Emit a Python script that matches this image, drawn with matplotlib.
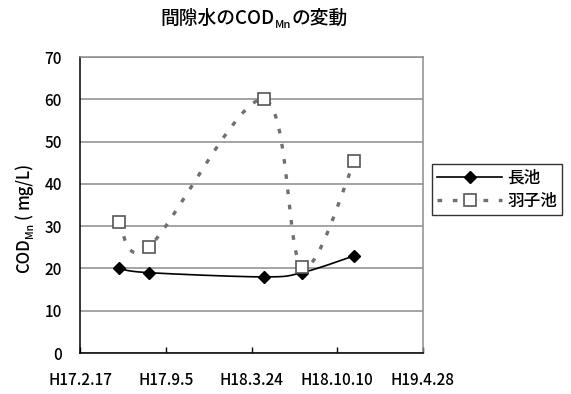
import datetime as dt

import matplotlib
matplotlib.use('Agg')
import matplotlib.dates as mdates
import matplotlib.pyplot as plt
import numpy as np
from matplotlib.lines import Line2D

plt.rcParams['font.family'] = ['Noto Sans CJK JP', 'DejaVu Sans']
plt.rcParams['font.weight'] = 'medium'

# 調査日（両池とも同じ日に採水）
sample_dates = ['2005-05-18', '2005-07-27', '2006-04-21', '2006-07-20', '2006-11-19']
# 間隙水のCOD_Mn (mg/L)
naga_ike = [20, 19, 18, 19, 23]
haneko_ike = [31, 25, 60, 20.3, 45.3]

# 軸の目盛（日付と和暦ラベル）
tick_dates = ['2005-02-17', '2005-09-05', '2006-03-24', '2006-10-10', '2007-04-28']
tick_labels = ['H17.2.17', 'H17.9.5', 'H18.3.24', 'H18.10.10', 'H19.4.28']
y_ticks = [0, 10, 20, 30, 40, 50, 60, 70]


def to_num(dates):
    return np.array([mdates.date2num(dt.datetime.fromisoformat(d)) for d in dates])


def smooth(x, y, n=40):
    """Excel風の平滑線（Catmull-Rom型ベジェ）"""
    p = np.column_stack([x, y]).astype(float)
    out = [p[:1]]
    for i in range(len(p) - 1):
        p0 = p[i - 1] if i > 0 else p[i]
        p1, p2 = p[i], p[i + 1]
        p3 = p[i + 2] if i + 2 < len(p) else p[i + 1]
        c1 = p1 + (p2 - p0) / 6
        c2 = p2 - (p3 - p1) / 6
        t = np.linspace(0, 1, n)[1:, None]
        seg = ((1 - t) ** 3 * p1 + 3 * (1 - t) ** 2 * t * c1
               + 3 * (1 - t) * t ** 2 * c2 + t ** 3 * p2)
        out.append(seg)
    c = np.vstack(out)
    return c[:, 0], c[:, 1]


xs = to_num(sample_dates)
xt = to_num(tick_dates)

fig = plt.figure(figsize=(5.71, 3.94), dpi=100)
ax = fig.add_axes([80 / 571, 41 / 394, 343 / 571, 296 / 394])

gray = '#8c8c8c'
ax.set_xlim(xt[0], xt[-1])
ax.set_ylim(0, 70)
ax.set_yticks(y_ticks)
ax.set_xticks(xt)
ax.set_xticklabels(tick_labels)
ax.yaxis.grid(True, color=gray, linewidth=1.1)
ax.set_axisbelow(True)
for side in ('top', 'right'):
    ax.spines[side].set_color(gray)
    ax.spines[side].set_linewidth(1.1)
for side in ('left', 'bottom'):
    ax.spines[side].set_color('black')
    ax.spines[side].set_linewidth(1.1)
ax.tick_params(axis='x', direction='in', length=4, width=1, pad=14, labelsize=11)
ax.tick_params(axis='y', length=0, pad=13, labelsize=11)

# 長池：黒の実線＋ひし形
sx, sy = smooth(xs, naga_ike)
ax.plot(sx, sy, color='black', linewidth=1.2, zorder=3)
ax.plot(xs, naga_ike, linestyle='none', marker='D', markersize=6.5,
        color='black', zorder=4)

# 羽子池：灰色の破線＋白抜き四角
hx, hy = smooth(xs, haneko_ike)
ax.plot(hx, hy, color='#707070', linewidth=2.4, dashes=(1.4, 3.2), zorder=3)
ax.plot(xs, haneko_ike, linestyle='none', marker='s', markersize=8.5,
        markerfacecolor='white', markeredgecolor='#555555',
        markeredgewidth=1.2, zorder=4)

handles = [
    Line2D([], [], color='black', linewidth=1.2, marker='D', markersize=6.5),
    Line2D([], [], color='#707070', linewidth=2.4, dashes=(1.4, 3.2),
           marker='s', markersize=8.5, markerfacecolor='white',
           markeredgecolor='#555555', markeredgewidth=1.2),
]
leg = fig.legend(handles, ['長池', '羽子池'], loc='upper left',
                 bbox_to_anchor=(432 / 571, 1 - 164 / 394), fontsize=12,
                 frameon=True, fancybox=False, handlelength=3.9,
                 handletextpad=0.3, borderpad=0.3, labelspacing=0.3,
                 borderaxespad=0)
leg.get_frame().set_edgecolor('black')
leg.get_frame().set_linewidth(1.0)

# タイトル（Mnは下付き）
t1 = fig.text(160 / 571, 1 - 18 / 394, '間隙水のCOD', fontsize=13.5, va='center', ha='left')
t2 = ax.annotate('Mn', xy=(1, 0), xycoords=t1, xytext=(0.3, -1.5),
                 textcoords='offset points', fontsize=8, ha='left', va='bottom')
ax.annotate('の変動', xy=(1, 0), xycoords=(t2, t1), xytext=(0.3, 0),
            textcoords='offset points', fontsize=13.5, ha='left', va='bottom')

# 縦軸ラベル（Mnは下付き）
y1 = fig.text(24 / 571, 1 - 273 / 394, 'COD', fontsize=12, rotation=90,
              ha='center', va='bottom')
y2 = ax.annotate('Mn', xy=(1, 1), xycoords=y1, xytext=(1.5, 0.3),
                 textcoords='offset points', fontsize=7.5, rotation=90,
                 ha='right', va='bottom')
y3 = ax.annotate('(', xy=(1, 1), xycoords=(y1, y2), xytext=(0, 3),
                 textcoords='offset points', fontsize=12, rotation=90,
                 ha='right', va='bottom')
ax.annotate('mg/L)', xy=(1, 1), xycoords=(y1, y3), xytext=(0, 2.5),
            textcoords='offset points', fontsize=12, rotation=90,
            ha='right', va='bottom')

fig.savefig('out.png', dpi=100)
